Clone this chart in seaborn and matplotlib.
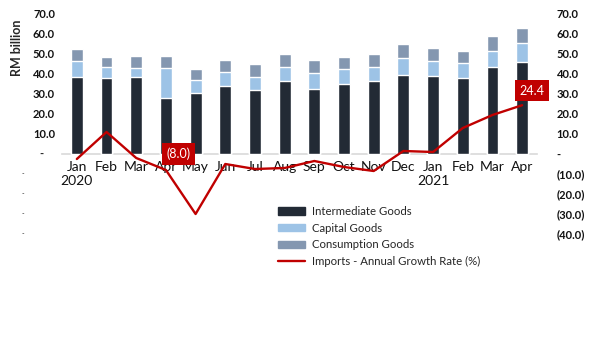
import numpy as np
import pandas as pd
import matplotlib
matplotlib.use("Agg")
import matplotlib.pyplot as plt
from matplotlib.patches import Patch
from matplotlib.lines import Line2D
import seaborn as sns

months = ["Jan\n2020", "Feb", "Mar", "Apr", "May", "Jun", "Jul", "Aug", "Sep",
          "Oct", "Nov", "Dec", "Jan\n2021", "Feb", "Mar", "Apr"]
intermediate = [38.5, 38.0, 38.5, 28.0, 30.5, 34.0, 32.0, 36.5, 32.5, 35.0, 36.5, 39.5, 39.0, 38.0, 43.5, 46.0]
capital = [8.0, 5.5, 4.5, 15.0, 6.5, 7.0, 6.5, 7.0, 8.0, 7.5, 7.0, 8.5, 7.5, 7.5, 8.0, 9.5]
consumption = [6.0, 5.0, 6.0, 6.0, 5.5, 6.0, 6.5, 6.5, 6.5, 6.0, 6.5, 7.0, 6.5, 6.0, 7.5, 7.5]
growth = [-2.5, 11.0, -2.0, -8.0, -30.0, -5.0, -7.5, -7.0, -3.5, -6.5, -8.5, 1.5, 1.0, 13.0, 19.5, 24.4]

series_names = ["Intermediate Goods", "Capital Goods", "Consumption Goods",
                "Imports - Annual Growth Rate (%)"]
c_dark, c_light, c_gray, c_red = "#222a35", "#9dc3e6", "#8497b0", "#c00000"

sns.set_style("white")
plt.rcParams["font.family"] = ["Lato", "DejaVu Sans"]

pos = np.arange(len(months))
df = pd.DataFrame({
    "pos": pos,
    "inter": intermediate,
    "cap": np.array(intermediate) + np.array(capital),
    "total": np.array(intermediate) + np.array(capital) + np.array(consumption),
    "growth": growth,
})

fig = plt.figure(figsize=(6.1, 3.41), dpi=100)
ax = fig.add_axes([62 / 610, 107 / 341, 475 / 610, 220 / 341])

sns.barplot(data=df, x="pos", y="total", color=c_gray, width=0.4, saturation=1, ax=ax, zorder=2)
sns.barplot(data=df, x="pos", y="cap", color=c_light, width=0.4, saturation=1, ax=ax, zorder=2)
sns.barplot(data=df, x="pos", y="inter", color=c_dark, width=0.4, saturation=1, ax=ax, zorder=2)

ax.set_ylim(-40, 70)
ax.set_xlim(-0.5, len(months) - 0.5)
ax.set_xlabel("")
ax.set_ylabel("")
ticks = np.arange(-40, 71, 10)
ax.set_yticks(ticks)
ax.set_yticklabels([f"{v:.1f}" if v > 0 else "" for v in ticks])
ax.set_xticks(pos)
ax.set_xticklabels(months, fontsize=8.5, color="#111111", linespacing=1.55)
for s in ["top", "right", "left"]:
    ax.spines[s].set_visible(False)
ax.spines["bottom"].set_position(("data", 0))
ax.spines["bottom"].set_color("#d9d9d9")
ax.spines["bottom"].set_linewidth(1.2)
ax.spines["bottom"].set_zorder(1)
ax.tick_params(axis="y", length=0, labelsize=8, colors="#111111", pad=5)
ax.tick_params(axis="x", length=0, colors="#111111", pad=5)
for lbl in ax.get_yticklabels():
    lbl.set_fontweight("bold")

tr = ax.get_yaxis_transform()
ax.text(-0.043, 0, "-", transform=tr, ha="center", va="center", fontsize=8, fontweight="bold")
for v in ticks[ticks < 0]:
    ax.text(-0.082, v, "-", transform=tr, ha="center", va="center", fontsize=5)

ax2 = ax.twinx()
sns.lineplot(data=df, x="pos", y="growth", color=c_red, linewidth=1.7, ax=ax2)
ax2.set_ylim(-40, 70)
ax2.set_xlim(-0.5, len(months) - 0.5)
ax2.set_ylabel("")
ax2.set_yticks(ticks)
ax2.set_yticklabels([f"{v:.1f}" if v > 0 else ("-" if v == 0 else f"({-v:.1f})") for v in ticks])
ax2.tick_params(axis="y", length=0, labelsize=8, pad=14, colors="#111111")
for lbl in ax2.get_yticklabels():
    lbl.set_fontweight("bold")
for s in ax2.spines.values():
    s.set_visible(False)

# data labels
for i, dx, dy in [(3, 12.5, 16), (15, 9.5, 14.5)]:
    v = growth[i]
    txt = f"({-v:.1f})" if v < 0 else f"{v:.1f}"
    ax2.annotate(txt, (pos[i], v), xytext=(dx * 0.72, dy * 0.72), textcoords="offset points",
                 ha="center", va="center", fontsize=9, color="white",
                 bbox=dict(boxstyle="square,pad=0.35", fc=c_red, ec="none"))

fig.text(17 / 610, 1 - 48 / 341, "RM billion", rotation=90, ha="center", va="center",
         fontsize=9, fontweight="bold")

handles = [Patch(color=c_dark), Patch(color=c_light), Patch(color=c_gray),
           Line2D([0], [0], color=c_red, linewidth=1.7)]
fig.legend(handles, series_names, loc="upper left", bbox_to_anchor=(278 / 610, 1 - 206 / 341),
           frameon=False, fontsize=8.2, handlelength=2.4, handleheight=0.65,
           handletextpad=0.55, labelspacing=0.5, borderpad=0, borderaxespad=0)

fig.savefig("out.png", dpi=100)
